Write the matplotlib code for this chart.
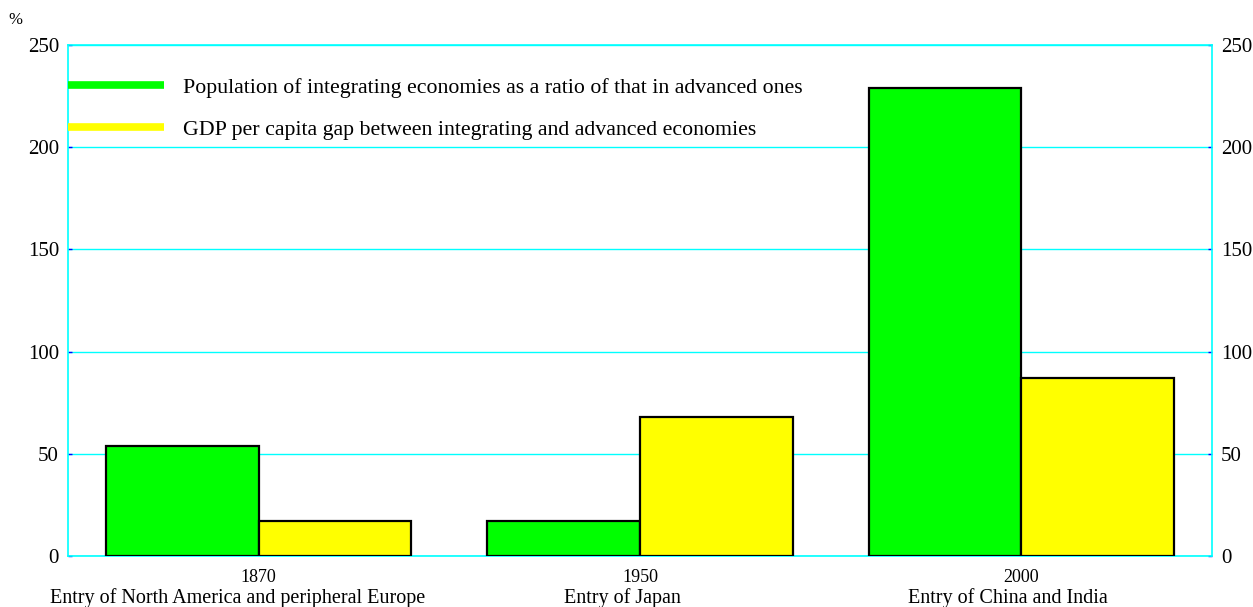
import matplotlib
matplotlib.use("Agg")
import matplotlib.pyplot as plt
import numpy as np
from matplotlib.lines import Line2D
import matplotlib.transforms as mtransforms

years = ["1870", "1950", "2000"]
categories = ["Entry of North America and peripheral Europe", "Entry of Japan", "Entry of China and India"]
population_ratio = [54, 17, 229]
gdp_gap = [17, 68, 87]
series_labels = ["Population of integrating economies as a ratio of that in advanced ones",
                 "GDP per capita gap between integrating and advanced economies"]
yticks = [0, 50, 100, 150, 200, 250]

plt.rcParams['font.family'] = ['Liberation Serif', 'DejaVu Serif']

fig = plt.figure(figsize=(12.53, 6.07), dpi=100)
ax = fig.add_axes([68/1253, 51/607, (1212-68)/1253, (556-45)/607])

cyan = "#00FFFF"
green = "#00FF00"
yellow = "#FFFF00"
x = np.arange(len(years))
w = 0.4

ax.set_axisbelow(True)
ax.grid(axis='y', color=cyan, lw=1.0)
ax.bar(x - w/2, population_ratio, width=w, color=green, edgecolor='black', lw=1.6, zorder=3)
ax.bar(x + w/2, gdp_gap, width=w, color=yellow, edgecolor='black', lw=1.6, zorder=3)

ax.set_xlim(-0.5, 2.5)
ax.set_ylim(0, 250)
ax.set_yticks(yticks)
ax.set_yticklabels([str(t) for t in yticks], fontsize=15)
ax.tick_params(axis='y', direction='in', length=3, color='#0000FF', width=1, pad=6.5,
               right=True, labelright=True)
ax.set_xticks(x)
ax.set_xticklabels(years, fontsize=13)
ax.tick_params(axis='x', length=0, pad=9.5)
for s in ax.spines.values():
    s.set_color(cyan)
    s.set_linewidth(1.2)

trans = mtransforms.blended_transform_factory(ax.transData, ax.transAxes)
label_shift_pt = [-15, -12.5, -9.5]  # horizontal shift of category captions (points)
for xi, c, sh in zip(x, categories, label_shift_pt):
    t = trans + mtransforms.ScaledTranslation(sh / 72, 0, fig.dpi_scale_trans)
    ax.text(xi, -0.082, c, transform=t, ha='center', va='center', fontsize=14.5)

fig.text(15/1253, 1 - 20/607, "%", fontsize=12, ha='center', va='center')

handles = [Line2D([], [], color=green, lw=5.5, solid_capstyle='butt'),
           Line2D([], [], color=yellow, lw=5.5, solid_capstyle='butt')]
ax.legend(handles, series_labels, loc='upper left', bbox_to_anchor=(0.0, 0.937),
          frameon=False, fontsize=15.75, handlelength=4.4, handletextpad=0.85,
          labelspacing=1.0, borderpad=0, borderaxespad=0)

fig.savefig("out.png", dpi=100)
